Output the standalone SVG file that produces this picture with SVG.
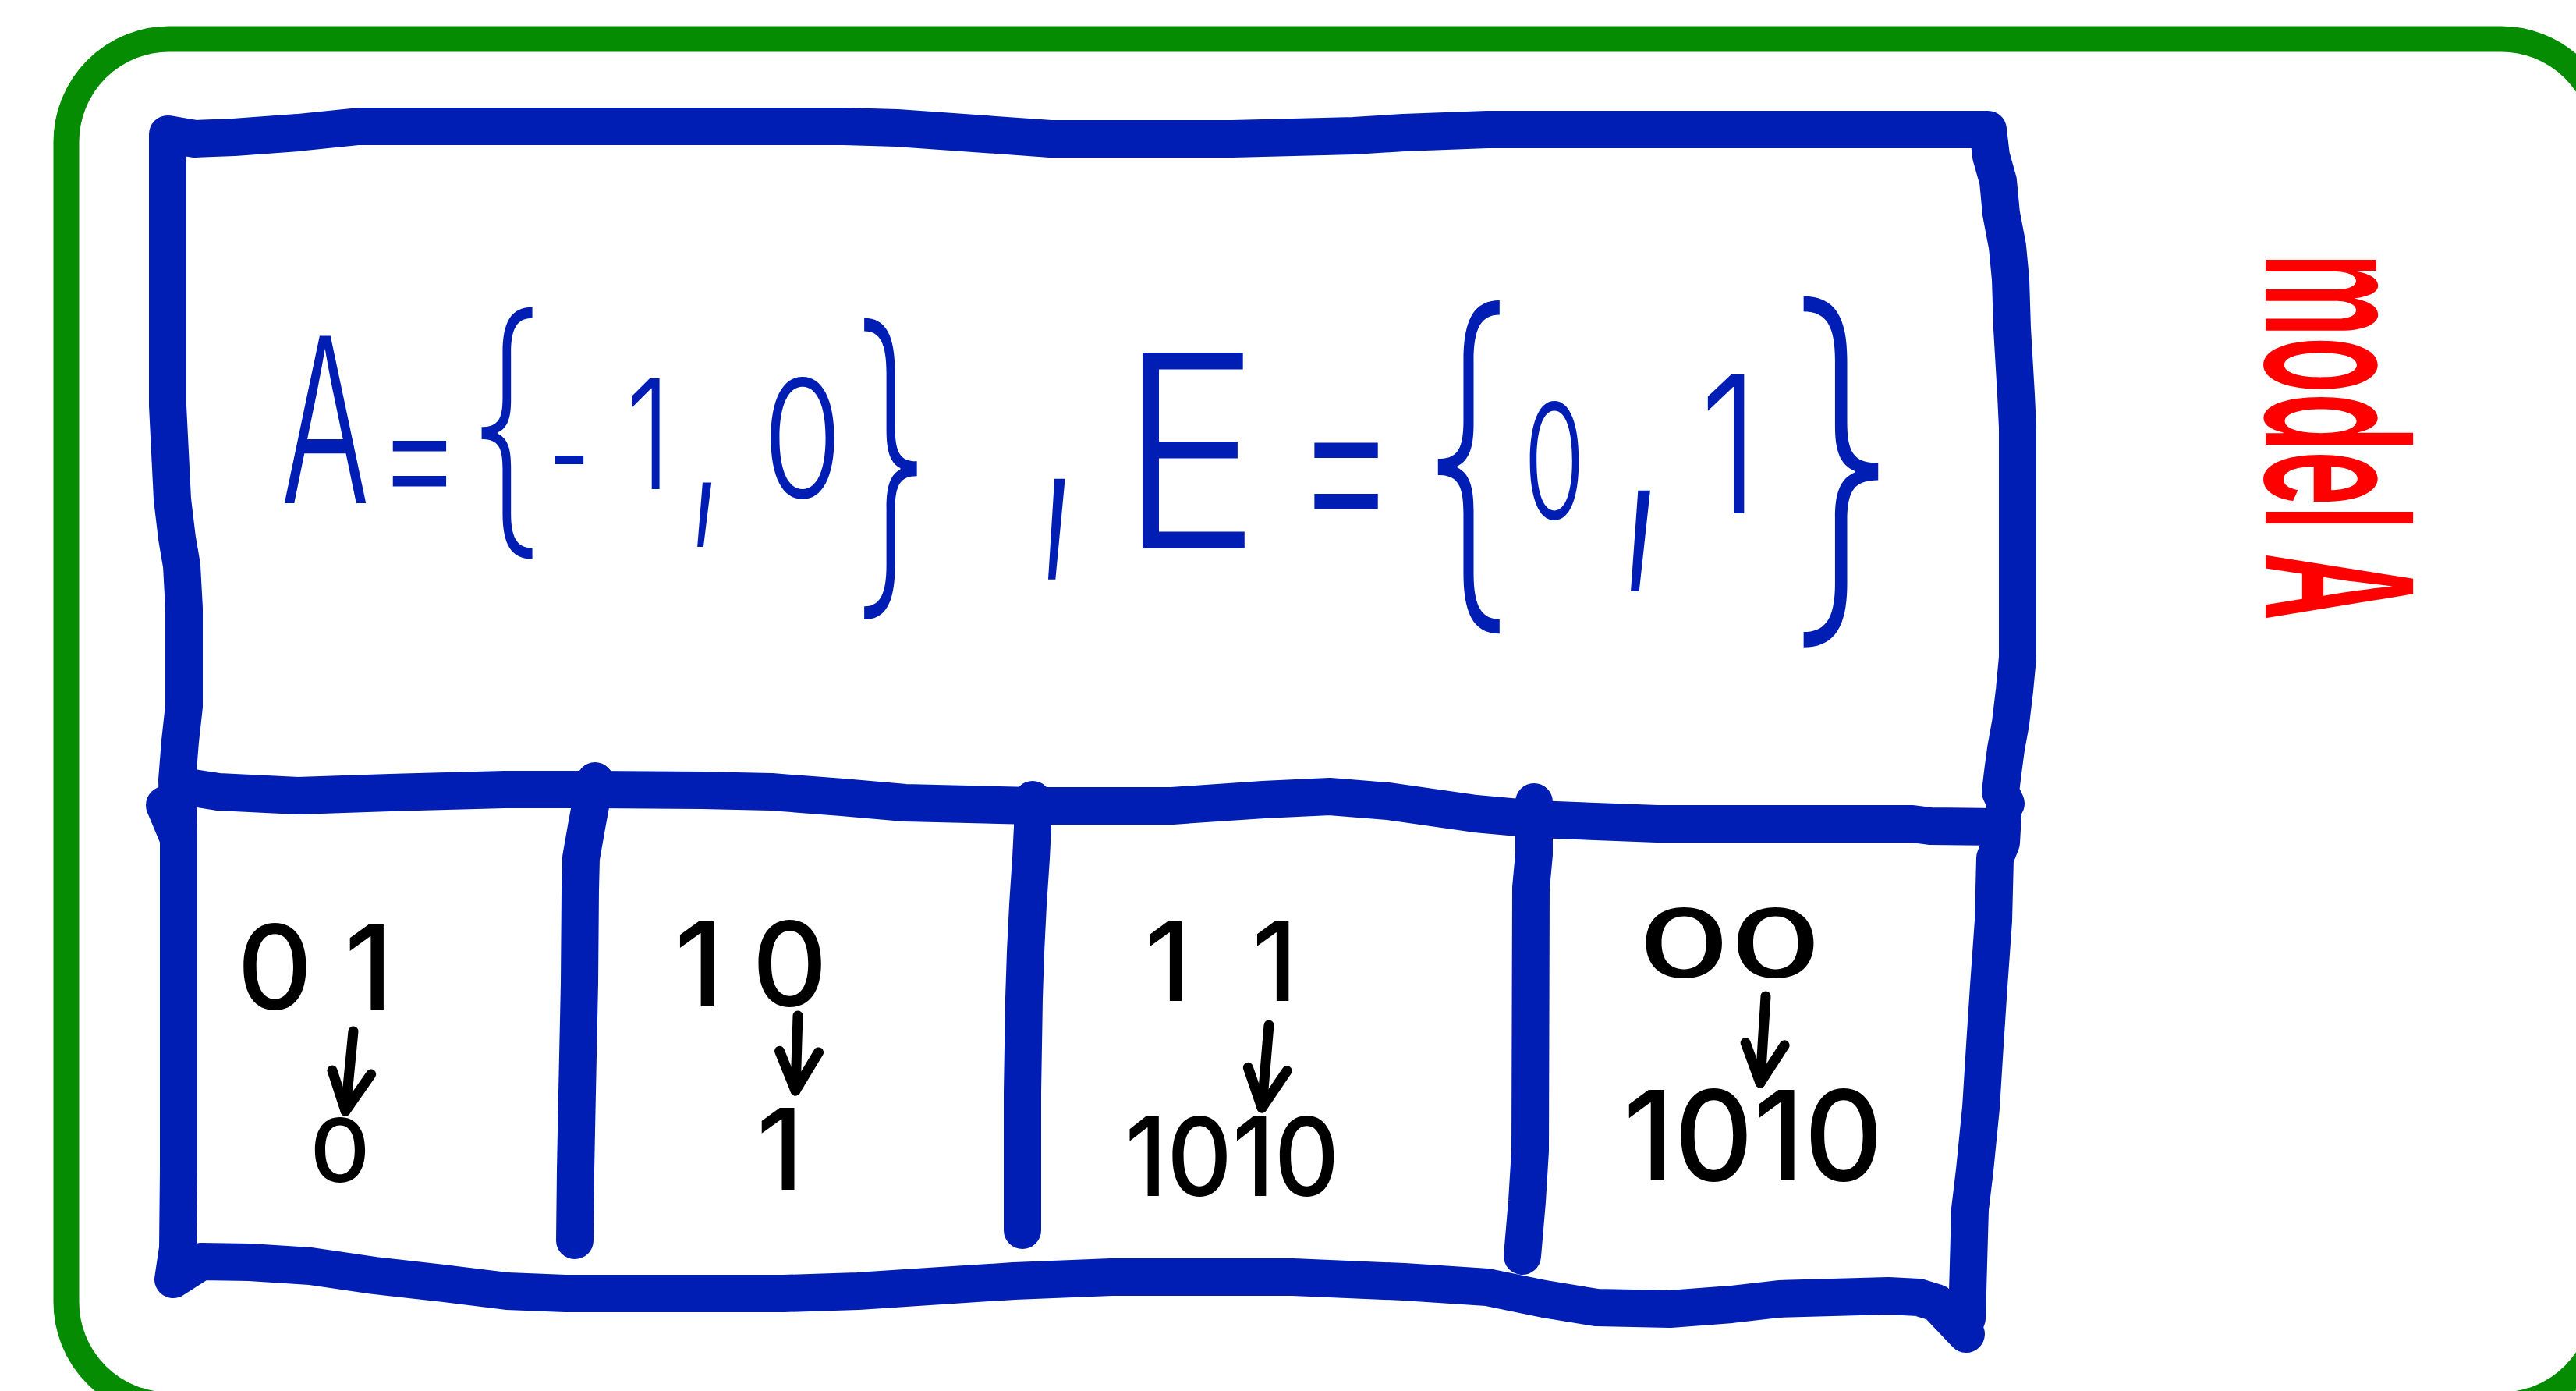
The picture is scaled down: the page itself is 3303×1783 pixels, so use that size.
<svg xmlns="http://www.w3.org/2000/svg" width="3303" height="1783" viewBox="0 0 3303 1783">
<style>
.frame{fill:none;stroke:#058c02;stroke-width:33}
.pen{fill:none;stroke:#001eb4;stroke-width:48;stroke-linecap:round;stroke-linejoin:round}
.blue{font-family:Inter,"DejaVu Sans",sans-serif;font-weight:300;font-size:100px;fill:#001eb4;text-anchor:middle}
.brace{font-weight:200}
.blk{font-family:Inter,"DejaVu Sans",sans-serif;font-weight:500;fill:#000;text-anchor:middle}
.red{font-family:Inter,"DejaVu Sans",sans-serif;font-weight:600;fill:#ff0000}
.arrow{fill:none;stroke:#000;stroke-width:13;stroke-linecap:round;stroke-linejoin:round}
</style>
<defs>
<marker id="head" markerUnits="userSpaceOnUse" orient="auto" overflow="visible" markerWidth="10" markerHeight="10">
<path d="M-50,22 L0,0 L-50,-28" fill="none" stroke="#000" stroke-width="13" stroke-linecap="round" stroke-linejoin="round"/>
</marker>
</defs>
<rect width="3303" height="1783" fill="#fff"/>
<g id="frame"><rect class="frame" x="85" y="50" width="3254" height="1751" rx="132" ry="132"/></g>
<g id="table">
<path class="pen" d="M229,1075 L227,1000 L231,950 L236,905 L236,780 L233,725 L227,690 L221,640 L218,580 L215,520 L215,172 L250,178 L300,176 L382,170 L460,162 L1082,162 L1150,164 L1347,178 L1580,178 L1736,174 L1800,170 L1907,166 L2549,166 L2553,200 L2562,232 L2566,274 L2574,316 L2578,358 L2580,421 L2585,506 L2587,548 L2587,843 L2583,885 L2578,927 L2572,960 L2568,990 L2565,1015 L2572,1030"/>
<path class="pen" d="M229,1007 L280,1015 L382,1020 L500,1016 L647,1012 L763,1012 L900,1013 L989,1015 L1080,1022 L1160,1029 L1324,1033 L1503,1033 L1620,1025 L1705,1021 L1780,1027 L1892,1043 L1969,1050 L2125,1056 L2452,1056 L2475,1059 L2560,1060"/>
<path class="pen" d="M211,1032 L229,1075 L229,1500 L228,1600 L222,1640 L258,1617 L320,1618 L398,1623 L480,1635 L569,1645 L650,1655 L725,1658 L1005,1658 L1100,1655 L1191,1649 L1300,1642 L1425,1637 L1658,1637 L1800,1643 L1907,1650 L1980,1665 L2047,1676 L2141,1678 L2220,1672 L2281,1665 L2421,1661 L2460,1663 L2483,1670 L2521,1710"/>
<path class="pen" d="M2568,1045 L2566,1080 L2558,1100 L2556,1180 L2550,1264 L2545,1340 L2540,1420 L2532,1500 L2526,1550 L2522,1690"/>
<path class="pen" d="M763,1001 L752,1060 L745,1100 L744,1140 L743,1260 L740,1400 L738,1500 L737,1590"/>
<path class="pen" d="M1324,1025 L1324,1060 L1322,1100 L1318,1160 L1315,1220 L1313,1280 L1311,1400 L1311,1577"/>
<path class="pen" d="M1967,1028 L1967,1095 L1963,1138 L1962,1475 L1958,1540 L1952,1610"/>
</g>
<g id="node-sets">
<text class="blue" transform="translate(417,645) scale(1.69,2.95)">A</text>
<text class="blue" transform="translate(538,657) scale(1.68,2.2)">=</text>
<text class="blue brace" transform="translate(649,668) scale(2.55,3.55)">{</text>
<text class="blue" transform="translate(730,645) scale(1.2,1.8)">-</text>
<text class="blue" transform="translate(831,627) scale(1.45,1.95)">1</text>
<text class="blue" transform="translate(905,648) scale(1.5,3.2)">,</text>
<text class="blue" transform="translate(1029,638) scale(1.66,2.1)">0</text>
<text class="blue brace" transform="translate(1143,736) scale(2.65,4.25)">}</text>
<text class="blue" transform="translate(1357,660) scale(1.8,5)">,</text>
<text class="blue" transform="translate(1526,703) scale(3.03,3.45)">E</text>
<text class="blue" transform="translate(1726,701) scale(2.0,3.2)">=</text>
<text class="blue brace" transform="translate(1882,748) scale(3.1,4.7)">{</text>
<text class="blue" transform="translate(1993,665) scale(1.28,2.05)">0</text>
<text class="blue" transform="translate(2106,675) scale(2.07,5)">,</text>
<text class="blue" transform="translate(2217,658) scale(1.92,2.45)">1</text>
<text class="blue brace" transform="translate(2362,762) scale(3.75,4.95)">}</text>
</g>
<g id="node-cell-01">
<text class="blk" x="404" y="1294" font-size="150" textLength="200" lengthAdjust="spacing">01</text>
<text class="blk" transform="translate(436,1515) scale(1.2,1.12)" font-size="100">0</text>
</g>
<g id="node-cell-10">
<text class="blk" x="963" y="1290" font-size="150" textLength="196" lengthAdjust="spacing">10</text>
<text class="blk" x="1000" y="1525" font-size="145">1</text>
</g>
<g id="node-cell-11">
<text class="blk" x="1566" y="1283" font-size="140" textLength="195" lengthAdjust="spacing">11</text>
<text class="blk" x="1580" y="1533" font-size="140" textLength="275" lengthAdjust="spacingAndGlyphs">1010</text>
</g>
<g id="node-cell-00">
<text class="blk" x="2218" y="1253" font-size="122" textLength="235" lengthAdjust="spacingAndGlyphs">00</text>
<text class="blk" x="2248" y="1513" font-size="160" textLength="333" lengthAdjust="spacingAndGlyphs">1010</text>
</g>
<g id="node-label">
<text class="red" transform="translate(2905,325) rotate(90)" font-size="260" textLength="470" lengthAdjust="spacingAndGlyphs">model A</text>
</g>
<g id="connectors">
<path class="arrow" d="M453,1322 L443,1424" marker-end="url(#head)"/>
<path class="arrow" d="M1023,1302 L1020,1398" marker-end="url(#head)"/>
<path class="arrow" d="M1627,1314 L1618,1420" marker-end="url(#head)"/>
<path class="arrow" d="M2264,1277 L2257,1388" marker-end="url(#head)"/>
</g>
</svg>
